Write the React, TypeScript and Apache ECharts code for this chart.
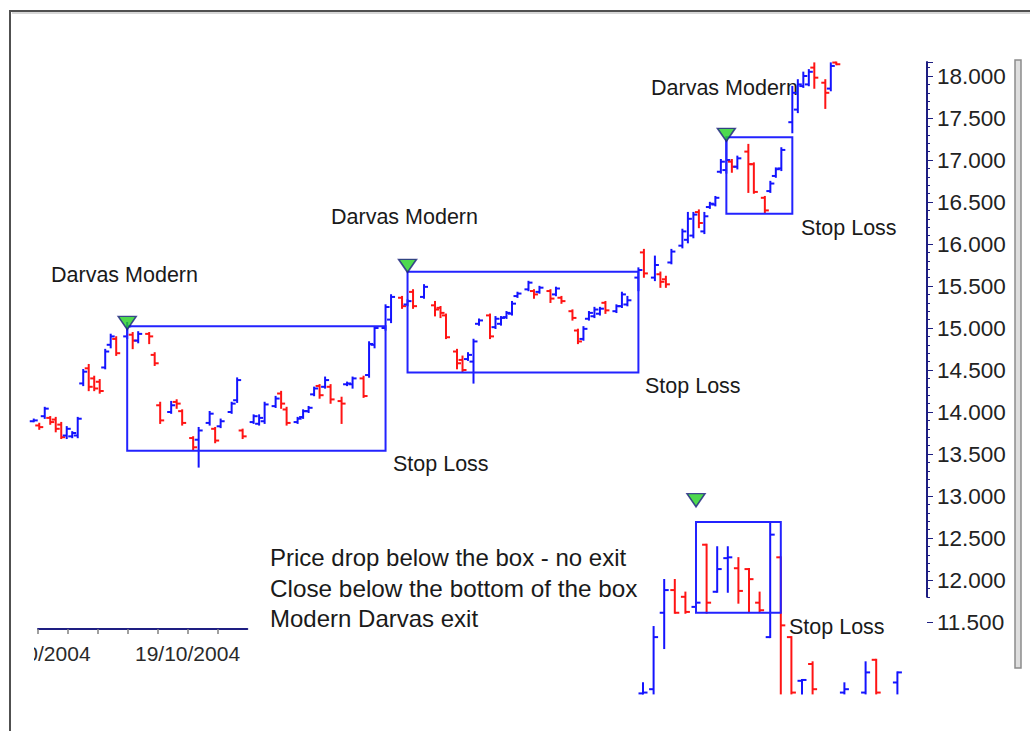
import React, { useEffect, useRef } from "react";
import * as echarts from "echarts";

// ---------- data ----------
// main price bars: [day, open, high, low, close]
const mainBars: number[][] = [
  [0, 13.89, 13.91, 13.89, 13.9],
  [1, 13.84, 13.86, 13.8, 13.82],
  [2, 13.95, 14.05, 13.93, 14.04],
  [3, 13.93, 13.94, 13.86, 13.88],
  [4, 13.91, 13.93, 13.77, 13.8],
  [5, 13.85, 13.87, 13.69, 13.7],
  [6, 13.72, 13.82, 13.69, 13.8],
  [7, 13.71, 13.76, 13.7, 13.75],
  [8, 13.72, 13.93, 13.7, 13.92],
  [9, 14.34, 14.5, 14.32, 14.48],
  [10, 14.52, 14.56, 14.26, 14.3],
  [11, 14.4, 14.42, 14.26, 14.28],
  [12, 14.36, 14.38, 14.23, 14.25],
  [13, 14.53, 14.74, 14.52, 14.72],
  [14, 14.8, 14.92, 14.77, 14.9],
  [15, 14.87, 14.89, 14.68, 14.7],
  [17, 14.9, 15.06, 14.88, 15.02],
  [18, 14.92, 14.94, 14.76, 14.85],
  [19, 14.85, 14.95, 14.83, 14.93],
  [21, 14.93, 14.94, 14.82, 14.9],
  [22, 14.68, 14.7, 14.56, 14.58],
  [23, 14.08, 14.11, 13.87, 13.9],
  [25, 14.0, 14.12, 13.99, 14.08],
  [26, 14.12, 14.14, 14.05, 14.1],
  [27, 14.01, 14.02, 13.85, 13.87],
  [29, 13.69, 13.7, 13.55, 13.58],
  [30, 13.67, 13.81, 13.35, 13.78],
  [32, 13.87, 14.0, 13.85, 13.98],
  [33, 13.8, 13.81, 13.64, 13.66],
  [34, 13.83, 13.91, 13.82, 13.89],
  [36, 14.0, 14.11, 13.99, 14.1],
  [37, 14.14, 14.4, 14.12, 14.38],
  [38, 13.78, 13.79, 13.69, 13.71],
  [40, 13.88, 13.96, 13.87, 13.95],
  [41, 13.86, 13.96, 13.85, 13.93],
  [42, 13.89, 14.11, 13.87, 14.09],
  [44, 14.07, 14.18, 14.06, 14.16],
  [45, 14.22, 14.24, 14.05, 14.1],
  [46, 14.03, 14.05, 13.85, 13.87],
  [48, 13.88, 13.93, 13.87, 13.92],
  [49, 13.94, 14.02, 13.93, 14.01],
  [50, 14.01, 14.06, 14.0, 14.05],
  [51, 14.21, 14.29, 14.2, 14.28],
  [52, 14.31, 14.32, 14.17, 14.2],
  [53, 14.3, 14.41, 14.29, 14.38],
  [54, 14.3, 14.32, 14.11, 14.15],
  [56, 14.13, 14.17, 13.87, 14.1],
  [57, 14.33, 14.35, 14.32, 14.34],
  [58, 14.33, 14.41, 14.29, 14.4],
  [60, 14.4, 14.42, 14.18, 14.19],
  [61, 14.44, 14.83, 14.42, 14.81],
  [62, 14.8, 15.01, 14.77, 15.0],
  [64, 15.0, 15.27, 14.98, 15.25],
  [65, 15.1, 15.39, 15.07, 15.37],
  [67, 15.36, 15.37, 15.24, 15.26],
  [68, 15.28, 15.33, 15.27, 15.32],
  [69, 15.43, 15.45, 15.24, 15.26],
  [71, 15.37, 15.51, 15.36, 15.49],
  [73, 15.27, 15.31, 15.15, 15.22],
  [74, 15.24, 15.25, 15.13, 15.18],
  [75, 15.15, 15.16, 14.88, 14.89],
  [77, 14.72, 14.74, 14.52, 14.58],
  [78, 14.62, 14.66, 14.48, 14.5],
  [79, 14.63, 14.7, 14.62, 14.68],
  [80, 14.6, 14.86, 14.35, 14.84],
  [81, 15.05, 15.1, 15.04, 15.09],
  [83, 15.15, 15.16, 14.88, 14.9],
  [84, 15.01, 15.13, 15.0, 15.11],
  [85, 15.05, 15.13, 15.04, 15.12],
  [86, 15.13, 15.19, 15.12, 15.18],
  [87, 15.17, 15.31, 15.16, 15.29],
  [88, 15.38, 15.42, 15.37, 15.41],
  [90, 15.46, 15.55, 15.45, 15.54],
  [91, 15.44, 15.45, 15.36, 15.4],
  [92, 15.43, 15.49, 15.42, 15.48],
  [94, 15.44, 15.45, 15.31, 15.35],
  [95, 15.4, 15.48, 15.39, 15.47],
  [96, 15.36, 15.37, 15.3, 15.32],
  [98, 15.2, 15.21, 15.1, 15.12],
  [99, 14.97, 14.98, 14.82, 14.84],
  [100, 14.87, 15.01, 14.86, 14.99],
  [101, 15.11, 15.19, 15.1, 15.18],
  [102, 15.14, 15.24, 15.13, 15.22],
  [103, 15.17, 15.24, 15.16, 15.23],
  [104, 15.3, 15.31, 15.18, 15.21],
  [106, 15.2, 15.27, 15.19, 15.26],
  [107, 15.26, 15.42, 15.25, 15.4],
  [108, 15.28, 15.37, 15.27, 15.33],
  [110, 15.6, 15.71, 15.45, 15.69],
  [111, 15.9, 15.93, 15.61, 15.65],
  [113, 15.6, 15.85, 15.57, 15.75],
  [114, 15.64, 15.66, 15.49, 15.55],
  [115, 15.58, 15.61, 15.49, 15.52],
  [116, 15.78, 15.93, 15.77, 15.91],
  [118, 15.98, 16.17, 15.96, 16.15],
  [119, 16.05, 16.37, 16.02, 16.3],
  [120, 16.1, 16.37, 16.08, 16.35],
  [121, 16.38, 16.4, 16.2, 16.25],
  [122, 16.15, 16.37, 16.13, 16.33],
  [123, 16.44, 16.49, 16.43, 16.48],
  [124, 16.47, 16.56, 16.46, 16.55],
  [125, 16.86, 17.0, 16.85, 16.98],
  [126, 16.88, 17.24, 16.85, 17.0],
  [127, 16.98, 17.0, 16.86, 16.92],
  [128, 16.92, 17.04, 16.9, 17.02],
  [130, 17.1, 17.18, 16.62, 16.95],
  [131, 16.95, 16.96, 16.61, 16.62],
  [133, 16.55, 16.56, 16.37, 16.4],
  [134, 16.63, 16.74, 16.62, 16.72],
  [135, 16.81, 16.9, 16.8, 16.89],
  [136, 16.9, 17.14, 16.88, 17.12],
  [138, 17.45, 17.87, 17.33, 17.8],
  [139, 17.6, 17.95, 17.57, 17.9],
  [140, 17.88, 18.04, 17.87, 18.0],
  [141, 17.9, 18.07, 17.89, 18.05],
  [142, 18.1, 18.15, 17.86, 17.98],
  [144, 17.92, 17.95, 17.62, 17.8],
  [145, 17.85, 18.15, 17.83, 18.12],
  [146, 18.16, 18.16, 18.14, 18.14],
];
// Darvas boxes: [startDay, top, endDay, bottom]
const mainBoxes: number[][] = [
  [17, 15.02, 64, 13.54],
  [68, 15.67, 110, 14.47],
  [126, 17.27, 138, 16.36],
];
// entry signals (green triangles): [day, price]
const mainSignals: number[][] = [
  [17, 15.06],
  [68, 15.74],
  [126, 17.3],
];

// inset example bars: [slot, open, high, low, close]
const insetBars: number[][] = [
  [0, 10.65, 10.77, 10.65, 10.66],
  [1, 10.7, 11.44, 10.65, 11.32],
  [2, 11.61, 12.0, 11.19, 11.88],
  [3, 11.88, 12.0, 11.61, 11.61],
  [4, 11.8, 11.85, 11.61, 11.62],
  [5, 11.68, 11.76, 11.64, 11.73],
  [6, 12.42, 12.42, 11.61, 11.73],
  [7, 11.86, 12.39, 11.86, 12.13],
  [8, 12.26, 12.39, 11.86, 12.27],
  [9, 12.14, 12.26, 11.73, 11.87],
  [10, 12.13, 12.13, 11.62, 12.01],
  [11, 11.73, 11.85, 11.62, 11.64],
  [12, 11.32, 12.68, 11.32, 12.54],
  [13, 12.27, 12.27, 10.65, 11.46],
  [14, 11.32, 11.32, 10.65, 10.66],
  [15, 10.8, 10.81, 10.65, 10.81],
  [16, 11.0, 11.02, 10.65, 10.7],
  [19, 10.66, 10.77, 10.65, 10.7],
  [21, 10.66, 11.02, 10.65, 10.9],
  [22, 11.05, 11.05, 10.65, 10.66],
  [24, 10.78, 10.9, 10.65, 10.9],
];
const insetBoxes: number[][] = [[5, 12.69, 13, 11.61]];
const insetSignals: number[][] = [[5, 12.95]];

// fragment of a date axis
const axisDates = [
  "12/10/2004", "13/10/2004", "14/10/2004", "15/10/2004",
  "18/10/2004", "19/10/2004", "20/10/2004", "21/10/2004",
];

// price scale
const yMin = 11.5;
const yLineMin = 11.8;
const yMax = 18 + 1 / 6;
const yStep = 0.5;
const yMinorStep = 0.1;

const labelsDarvas = ["Darvas Modern", "Darvas Modern", "Darvas Modern"];
const labelsStop = ["Stop Loss", "Stop Loss", "Stop Loss", "Stop Loss"];
const noteLines = [
  "Price drop below the box - no exit",
  "Close below the bottom of the box",
  "Modern Darvas exit",
];

// ---------- styles ----------
const FONT = "'Liberation Sans', Arial, Helvetica, sans-serif";
const BLUE = "#1414ff";
const RED = "#ff1414";
const BOX = "#2323ff";
const NAVY = "#1e1e82";
const PX_PER_UNIT = 84;

function makeOhlcRender(tick: number) {
  return (params: any, api: any) => {
    const d = api.value(0);
    const o = api.coord([d, api.value(1)]);
    const h = api.coord([d, api.value(2)]);
    const l = api.coord([d, api.value(3)]);
    const c = api.coord([d, api.value(4)]);
    const color = api.value(4) >= api.value(1) ? BLUE : RED;
    const st = { stroke: color, lineWidth: 2 };
    return {
      type: "group",
      children: [
        { type: "line", shape: { x1: h[0], y1: h[1] - 1, x2: l[0], y2: l[1] + 1 }, style: st },
        { type: "line", shape: { x1: o[0] - tick, y1: o[1], x2: o[0], y2: o[1] }, style: st },
        { type: "line", shape: { x1: c[0], y1: c[1], x2: c[0] + tick, y2: c[1] }, style: st },
      ],
    };
  };
}

function boxRender(params: any, api: any) {
  const p0 = api.coord([api.value(0), api.value(1)]);
  const p1 = api.coord([api.value(2), api.value(3)]);
  return {
    type: "rect",
    shape: { x: p0[0], y: p0[1], width: p1[0] - p0[0], height: p1[1] - p0[1] },
    style: { fill: "none", stroke: BOX, lineWidth: 2 },
  };
}

function yLabel(v: number) {
  return Math.abs(v / yStep - Math.round(v / yStep)) < 1e-6 ? v.toFixed(3) : "";
}

function textEl(text: string, x: number, y: number, size: number) {
  return {
    type: "text",
    x,
    y,
    z: 1,
    style: {
      text,
      fill: "#1a1a1a",
      font: `${size}px ${FONT}`,
      verticalAlign: "middle",
      align: "left",
    },
  };
}

const signalStyle = {
  type: "scatter",
  symbol: "triangle",
  symbolRotate: 180,
  symbolSize: [18, 13],
  itemStyle: { color: "#22d022", borderColor: NAVY, borderWidth: 1.5 },
  z: 6,
};

const mainTop = 62;
const option: any = {
  animation: false,
  backgroundColor: "#ffffff",
  grid: [
    { left: 31, top: mainTop, width: 896, height: (yMax - yMin) * PX_PER_UNIT, outerBoundsMode: "none", containLabel: false },
    { left: 637.7, top: 475, width: 265, height: 218.4, outerBoundsMode: "none", containLabel: false },
    { left: 38, top: 600, width: 209.3, height: 29, outerBoundsMode: "none", containLabel: false },
    { left: 31, top: mainTop, width: 896, height: (yMax - yLineMin) * PX_PER_UNIT, outerBoundsMode: "none", containLabel: false },
  ],
  xAxis: [
    { gridIndex: 0, type: "value", min: -0.5, max: 162.5, show: false },
    { gridIndex: 1, type: "value", min: -0.5, max: 24.5, show: false },
    {
      gridIndex: 2,
      type: "category",
      boundaryGap: false,
      data: axisDates,
      axisLine: { onZero: false, lineStyle: { color: NAVY, width: 2 } },
      axisTick: { length: 5, interval: (i: number) => i < 7, lineStyle: { color: "#808080", width: 1.5 } },
      axisLabel: { interval: 4, margin: 14, fontSize: 21, color: "#2a2a2a", fontFamily: FONT },
    },
    { gridIndex: 3, type: "value", min: 0, max: 1, show: false },
  ],
  yAxis: [
    {
      gridIndex: 0,
      type: "value",
      position: "right",
      min: yMin,
      max: yMax,
      interval: yStep,
      splitLine: { show: false },
      axisLine: { show: false, onZero: false },
      axisTick: { show: true, length: 6, lineStyle: { color: NAVY } },
      axisLabel: { margin: 10, fontSize: 22.5, color: "#222", fontFamily: FONT, formatter: yLabel },
    },
    { gridIndex: 1, type: "value", min: 10.65, max: 13.25, show: false },
    { gridIndex: 2, type: "value", min: 0, max: 1, show: false },
    {
      gridIndex: 3,
      type: "value",
      position: "right",
      min: yLineMin,
      max: yMax,
      interval: yMinorStep,
      splitLine: { show: false },
      axisLine: { show: true, onZero: false, lineStyle: { color: NAVY, width: 2 } },
      axisTick: { show: true, length: 3, lineStyle: { color: NAVY } },
      axisLabel: { show: false },
    },
  ],
  series: [
    {
      type: "custom",
      xAxisIndex: 0,
      yAxisIndex: 0,
      data: mainBars,
      encode: { x: 0, y: [1, 2, 3, 4] },
      renderItem: makeOhlcRender(4),
      z: 3,
    },
    {
      type: "custom",
      xAxisIndex: 0,
      yAxisIndex: 0,
      data: mainBoxes,
      encode: { x: [0, 2], y: [1, 3] },
      renderItem: boxRender,
      z: 4,
    },
    { ...signalStyle, xAxisIndex: 0, yAxisIndex: 0, data: mainSignals },
    {
      type: "custom",
      xAxisIndex: 1,
      yAxisIndex: 1,
      data: insetBars,
      encode: { x: 0, y: [1, 2, 3, 4] },
      renderItem: makeOhlcRender(4.5),
      z: 3,
    },
    {
      type: "custom",
      xAxisIndex: 1,
      yAxisIndex: 1,
      data: insetBoxes,
      encode: { x: [0, 2], y: [1, 3] },
      renderItem: boxRender,
      z: 4,
    },
    { ...signalStyle, xAxisIndex: 1, yAxisIndex: 1, data: insetSignals },
  ],
  graphic: [
    textEl(labelsDarvas[0], 51, 275, 21.5),
    textEl(labelsDarvas[1], 331, 217, 21.5),
    textEl(labelsDarvas[2], 651, 88, 21.5),
    textEl(labelsStop[0], 393, 464, 21.5),
    textEl(labelsStop[1], 645, 386, 21.5),
    textEl(labelsStop[2], 801, 228, 21.5),
    textEl(labelsStop[3], 789, 627, 21.5),
    textEl(noteLines[0], 270, 557, 24),
    textEl(noteLines[1], 270, 588, 24.3),
    textEl(noteLines[2], 270, 618, 24),
    // clip of the date-axis fragment
    { type: "rect", z: 50, shape: { x: 0, y: 636, width: 34, height: 44 }, style: { fill: "#ffffff" } },
    // frame
    { type: "line", z: 60, shape: { x1: 10, y1: 10, x2: 10, y2: 731 }, style: { stroke: "#505050", lineWidth: 2 } },
    { type: "line", z: 60, shape: { x1: 10, y1: 11, x2: 1030, y2: 11 }, style: { stroke: "#505050", lineWidth: 2 } },
    { type: "line", z: 60, shape: { x1: 12, y1: 13, x2: 1030, y2: 13 }, style: { stroke: "#b0b0b0", lineWidth: 1 } },
    { type: "rect", z: 60, shape: { x: 1015, y: 60, width: 6, height: 608 }, style: { fill: "#dedede", stroke: "#8c8c8c", lineWidth: 1.5 } },
  ],
};

export default function App() {
  const ref = useRef<HTMLDivElement>(null);
  useEffect(() => {
    const chart = echarts.init(ref.current!, null, { renderer: "svg" });
    chart.setOption(option);
    return () => chart.dispose();
  }, []);
  return (
    <div
      ref={ref}
      style={{ position: "fixed", left: 0, top: 0, width: 1030, height: 731, background: "#fff" }}
    />
  );
}
